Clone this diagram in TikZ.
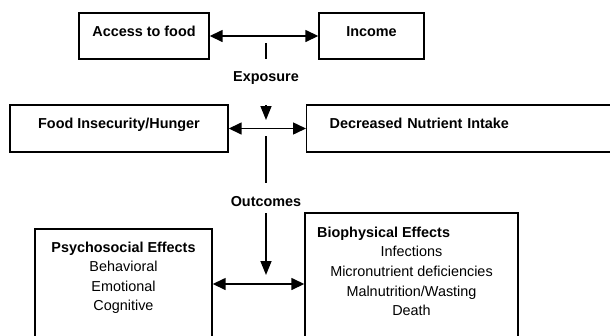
\documentclass[tikz,border=0pt]{standalone}
\usepackage{fontspec}
\setmainfont{Liberation Sans}
\usetikzlibrary{arrows.meta}
\begin{document}
\begin{tikzpicture}[x=1bp,y=-1bp,
  every node/.style={font=\fontsize{14.4bp}{19.6bp}\selectfont},
  box/.style={draw, line width=1.4bp, inner sep=0pt, text height=5bp, text depth=5bp},
  frame/.style={draw, line width=1.4bp, inner sep=0pt},
  lbl/.style={inner sep=0pt, font=\fontsize{14.4bp}{19.6bp}\selectfont\bfseries},
  conn/.style={line width=1.5bp},
  tip/.style={-{Triangle[length=14bp,width=11bp]}},
  tips/.style={{Triangle[length=13bp,width=12bp]}-{Triangle[length=13bp,width=12bp]}}
]
\useasboundingbox (0,0) rectangle (610,335);
\clip (0,0) rectangle (610,335);
% top row
\node[box, minimum width=130bp, minimum height=46bp, font=\fontsize{14.4bp}{19.6bp}\selectfont\bfseries] (access) at (144,36) {Access to food};
\node[box, minimum width=105bp, minimum height=46bp, font=\fontsize{14.4bp}{19.6bp}\selectfont\bfseries] (income) at (371.5,36) {Income};
\draw[conn, tips] (access) -- (income);
\coordinate (t1) at (266,43);
\coordinate (t2) at (266,59);
\draw[conn] (t1) -- (t2);
\node[lbl, anchor=base] (exposure) at (266,81.7) {Exposure};
\coordinate (d1) at (266,105);
\coordinate (d2) at (266,120);
\draw[conn, tip] (d1) -- (d2);
% middle row
\node[box, minimum width=218bp, minimum height=47bp, font=\fontsize{14.4bp}{19.6bp}\selectfont\bfseries] (food) at (119,128.5) {Food Insecurity/Hunger};
\node[box, anchor=west, minimum height=47bp, inner xsep=23bp, text width=300bp, align=left, font=\fontsize{14.4bp}{19.6bp}\selectfont\bfseries] (decr) at (306,128.5) {Decreased Nutrient Intake};
\draw[conn, tips] (food) -- (decr);
\coordinate (v1) at (266,136);
\coordinate (v2) at (266,183);
\draw[conn] (v1) -- (v2);
\node[lbl, anchor=base] (outcomes) at (266,206) {Outcomes};
\coordinate (o1) at (266,213);
\coordinate (o2) at (266,275);
\draw[conn, tip] (o1) -- (o2);
% bottom row
\node[frame, minimum width=177bp, minimum height=131bp] (psy) at (123.5,294.5) {};
\node[frame, minimum width=213bp, minimum height=147bp] (bio) at (411.5,286.5) {};
\node[anchor=north, inner sep=0pt, align=center] (psytext) at (123.5,241.4)
  {\textbf{Psychosocial Effects}\\Behavioral\\Emotional\\Cognitive};
\node[lbl, anchor=base west] (biotitle) at (317,237.3) {Biophysical Effects};
\node[anchor=north, inner sep=0pt, align=center] (biotext) at (411.5,246.2)
  {Infections\\Micronutrient deficiencies\\Malnutrition/Wasting\\Death};
\coordinate (by) at (266,284);
\draw[conn, tips] (psy.east |- by) -- (bio.west |- by);
\end{tikzpicture}
\end{document}
